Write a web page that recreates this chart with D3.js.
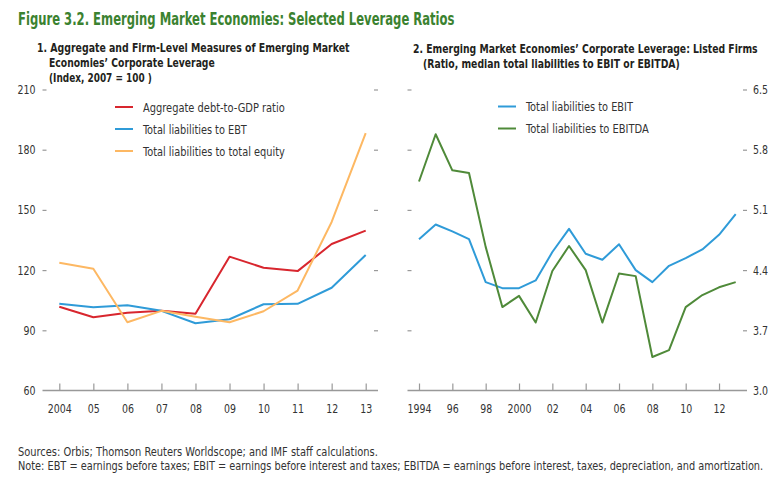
<!DOCTYPE html>
<html><head><meta charset="utf-8">
<script src="https://cdn.jsdelivr.net/npm/d3@7"></script>
<style>
body{margin:0;background:#fff;}
svg text{font-family:"DejaVu Sans Condensed","Liberation Sans Narrow",sans-serif;}
</style></head><body>
<svg id="c" width="784" height="482"></svg>
<script>
// ---- Data ----
const yearsLeft = [2004,2005,2006,2007,2008,2009,2010,2011,2012,2013];
const xTicksLeft = ["2004","05","06","07","08","09","10","11","12","13"];
const aggDebtGDP = [101.7,96.5,98.8,99.7,98.3,126.7,121.2,119.5,133,139.7];
const liabToEBT = [103.2,101.5,102.5,99.7,93.5,95.5,103,103.2,111.2,127.5];
const liabToEquity = [123.7,120.7,94,99.7,96.7,94,99.5,109.8,144,188.3];
const yTicksLeft = [60,90,120,150,180,210];

const yearsRight = [1994,1995,1996,1997,1998,1999,2000,2001,2002,2003,2004,2005,2006,2007,2008,2009,2010,2011,2012,2013];
const xTickYearsRight = [1994,1996,1998,2000,2002,2004,2006,2008,2010,2012];
const xTicksRight = ["1994","96","98","2000","02","04","06","08","10","12"];
const liabToEBIT = [4.76,4.93,4.85,4.76,4.26,4.19,4.19,4.28,4.61,4.88,4.59,4.52,4.70,4.40,4.26,4.45,4.54,4.64,4.81,5.05];
const liabToEBITDA = [5.43,5.98,5.56,5.53,4.67,3.97,4.10,3.79,4.39,4.68,4.40,3.79,4.36,4.33,3.39,3.47,3.97,4.11,4.20,4.26];
const yTicksRight = [3.0,3.7,4.4,5.1,5.8,6.5];

const RED="#d8262e", BLUE="#2f9bd8", ORANGE="#fdb863", GREEN="#4f8a39";
const svg = d3.select("#c");
const AX="#999";

// horizontally compress a text to a given width (condensed look)
function fit(sel, w){
  const L = sel.node().getComputedTextLength();
  const x = +sel.attr("x"), y = +sel.attr("y");
  sel.attr("x",0).attr("y",0).attr("transform",`translate(${x},${y}) scale(${w/L},1)`);
  return sel;
}
function fitTick(sel, w){ sel.attr("textLength",w).attr("lengthAdjust","spacingAndGlyphs"); }
function charW(s){ let w=0; for(const ch of s){ w += (ch==="."?3:6); } return w; }

// title
fit(svg.append("text").attr("x",18).attr("y",25).attr("fill","#3b8230")
  .attr("font-size",17).attr("font-weight","bold")
  .text("Figure 3.2. Emerging Market Economies: Selected Leverage Ratios"), 437);

function subtitle(x, indent, y0, lines, widths){
  lines.forEach((t,i)=>{
    fit(svg.append("text").attr("x", i===0?x:indent).attr("y", y0+i*15)
      .attr("font-size",12).attr("font-weight","bold").attr("fill","#231f20").text(t), widths[i]);
  });
}
subtitle(37,49,52,["1. Aggregate and Firm-Level Measures of Emerging Market","Economies’ Corporate Leverage","(Index, 2007 = 100 )"],[313,166,103]);
subtitle(413,423,53,["2. Emerging Market Economies’ Corporate Leverage: Listed Firms","(Ratio, median total liabilities to EBIT or EBITDA)"],[345,257]);

const yTop=89.5, yBot=390.5;

function styleAxis(g){
  g.select(".domain").remove();
  g.selectAll(".tick line").attr("stroke",AX).attr("stroke-width",1.2);
  g.selectAll(".tick text").attr("fill","#333").attr("font-size",12.5)
   .each(function(){ const t=d3.select(this).text(); if(t) fitTick(d3.select(this), charW(t)); });
}

function panel(o){
  const x = d3.scaleLinear().domain(o.xdom).range(o.xr);
  const y = d3.scaleLinear().domain(o.ydom).range([yBot,yTop]);
  const gl = svg.append("g").attr("transform",`translate(${o.axL+4},0)`)
    .call(d3.axisLeft(y).tickValues(o.yt).tickSize(4).tickPadding(7)
      .tickFormat(o.labelLeft? o.fmt : ()=>""));
  styleAxis(gl);
  const gr = svg.append("g").attr("transform",`translate(${o.axR},0)`)
    .call(d3.axisRight(y).tickValues(o.yt).tickSize(4).tickPadding(6)
      .tickFormat(o.labelLeft? ()=>"" : o.fmt));
  styleAxis(gr);
  gl.selectAll(".tick").filter(d=>d===o.ydom[0]).select("line").remove();
  gr.selectAll(".tick").filter(d=>d===o.ydom[0]).select("line").remove();
  svg.append("line").attr("x1",o.axL).attr("x2",o.axR+4).attr("y1",yBot).attr("y2",yBot)
    .attr("stroke",AX).attr("stroke-width",1.5);
  const gx = svg.append("g").attr("transform",`translate(0,${yBot})`)
    .call(d3.axisBottom(x).tickValues(o.xtv).tickSizeInner(-7).tickSizeOuter(0).tickPadding(14)
      .tickFormat((d,i)=>o.xtl[i]));
  styleAxis(gx);
  const line = d3.line().x((d,i)=>x(o.xs[i])).y(d=>y(d));
  o.series.forEach(s=>{
    svg.append("path").datum(s.v).attr("d",line).attr("fill","none")
      .attr("stroke",s.c).attr("stroke-width",2).attr("stroke-linejoin","round");
  });
  o.series.forEach((s,i)=>{
    const ly = o.leg[1]+i*o.leg[2];
    svg.append("line").attr("x1",o.leg[0]).attr("x2",o.leg[0]+18).attr("y1",ly).attr("y2",ly)
      .attr("stroke",s.c).attr("stroke-width",2);
    fit(svg.append("text").attr("x",o.leg[0]+28).attr("y",ly+4.5).attr("font-size",12.5)
      .attr("fill","#333").text(s.name), s.w);
  });
}

panel({xdom:[2004,2013], xr:[59.3,365.7], ydom:[60,210], yt:yTicksLeft, axL:42.5, axR:374,
  labelLeft:true, fmt:d3.format("d"), xtv:yearsLeft, xtl:xTicksLeft, xs:yearsLeft,
  series:[{name:"Aggregate debt-to-GDP ratio",v:aggDebtGDP,c:RED,w:142},
          {name:"Total liabilities to EBT",v:liabToEBT,c:BLUE,w:104},
          {name:"Total liabilities to total equity",v:liabToEquity,c:ORANGE,w:142}],
  leg:[115,107,22]});

panel({xdom:[1994,2013], xr:[419,735.7], ydom:[3.0,6.5], yt:yTicksRight, axL:407.5, axR:743,
  labelLeft:false, fmt:d3.format(".1f"), xtv:xTickYearsRight, xtl:xTicksRight, xs:yearsRight,
  series:[{name:"Total liabilities to EBIT",v:liabToEBIT,c:BLUE,w:107},
          {name:"Total liabilities to EBITDA",v:liabToEBITDA,c:GREEN,w:123}],
  leg:[498,106.5,22]});

fit(svg.append("text").attr("x",18).attr("y",456).attr("font-size",11.5).attr("fill","#333")
  .text("Sources: Orbis; Thomson Reuters Worldscope; and IMF staff calculations."), 360);
fit(svg.append("text").attr("x",18).attr("y",470).attr("font-size",11.5).attr("fill","#333")
  .text("Note: EBT = earnings before taxes; EBIT = earnings before interest and taxes; EBITDA = earnings before interest, taxes, depreciation, and amortization."), 746);
</script></body></html>
